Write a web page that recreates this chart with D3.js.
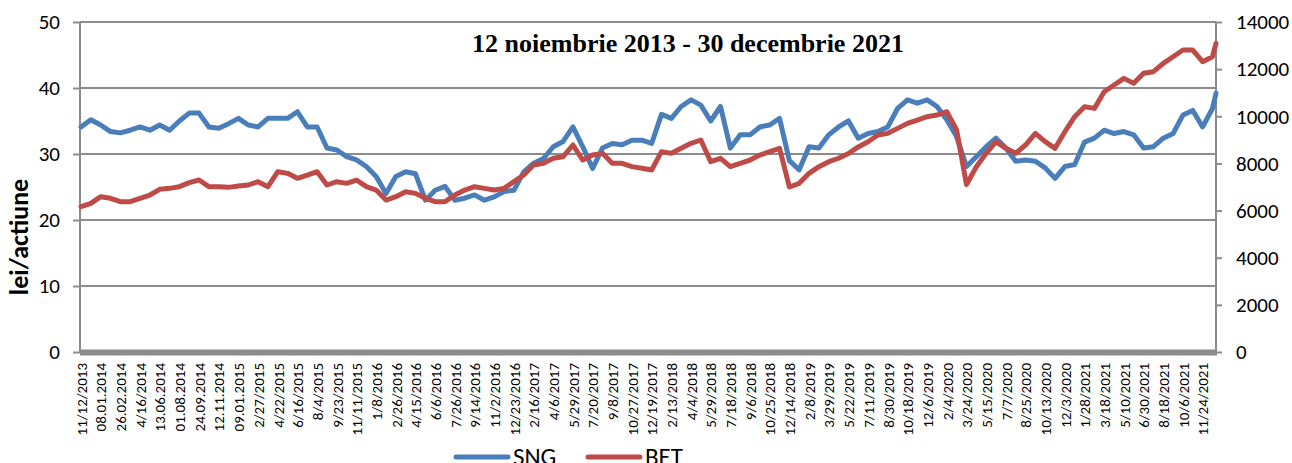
<!DOCTYPE html>
<html>
<head>
<meta charset="utf-8">
<script src="https://cdn.jsdelivr.net/npm/d3@7"></script>
<style>
  body { margin: 0; background: #fff; }
  svg { display: block; }
  .tick text { font-family: Carlito, Lato, sans-serif; fill: #000; }
</style>
</head>
<body>
<div id="chart"></div>
<script>
// category labels on the x axis (one every 35 trading days)
const DATE_LABELS = ["11/12/2013","08.01.2014","26.02.2014","4/16/2014","13.06.2014","01.08.2014",
  "24.09.2014","12.11.2014","09.01.2015","2/27/2015","4/22/2015","6/16/2015","8/4/2015","9/23/2015",
  "11/11/2015","1/8/2016","2/26/2016","4/15/2016","6/6/2016","7/26/2016","9/14/2016","11/2/2016",
  "12/23/2016","2/16/2017","4/6/2017","5/29/2017","7/20/2017","9/8/2017","10/27/2017","12/19/2017",
  "2/13/2018","4/4/2018","5/29/2018","7/18/2018","9/6/2018","10/25/2018","12/14/2018","2/8/2019",
  "3/29/2019","5/22/2019","7/11/2019","8/30/2019","10/18/2019","12/6/2019","2/4/2020","3/24/2020",
  "5/15/2020","7/7/2020","8/25/2020","10/13/2020","12/3/2020","1/28/2021","3/18/2021","5/10/2021",
  "6/30/2021","8/18/2021","10/6/2021","11/24/2021"];

// series, one value every half label interval, last one = last day
const SNG = [34.1,35.2,34.4,33.4,33.2,33.6,34.1,33.6,34.4,33.6,35.0,36.2,36.2,34.1,33.9,34.6,35.4,34.4,34.1,35.4,
  35.4,35.4,36.4,34.1,34.1,30.9,30.6,29.6,29.1,28.1,26.6,24.0,26.6,27.3,27.0,23.0,24.5,25.1,23.0,23.3,
  23.8,23.0,23.5,24.3,24.5,27.3,28.6,29.3,31.1,31.9,34.1,31.1,27.8,30.9,31.6,31.4,32.1,32.1,31.6,36.0,
  35.4,37.2,38.2,37.4,35.0,37.2,30.9,32.9,32.9,34.1,34.4,35.4,29.0,27.6,31.1,30.9,32.9,34.1,35.0,32.4,
  33.1,33.4,34.1,36.9,38.2,37.7,38.2,37.2,35.2,32.6,28.1,29.6,31.1,32.4,30.9,28.9,29.1,28.9,27.9,26.3,
  28.1,28.4,31.8,32.4,33.6,33.1,33.4,32.9,30.9,31.1,32.4,33.1,35.9,36.6,34.1,36.9,39.2];
const BET = [6165,6307,6590,6519,6378,6378,6519,6660,6900,6943,7014,7183,7296,7014,7014,6985,7042,7085,7226,7014,
  7650,7579,7367,7508,7650,7085,7226,7155,7296,7014,6872,6448,6589,6801,6730,6519,6378,6378,6660,6872,
  7014,6943,6872,6943,7226,7508,7933,8004,8216,8287,8782,8145,8357,8428,8004,8004,7863,7792,7721,8500,
  8428,8640,8852,8994,8075,8216,7862,8004,8145,8357,8499,8640,7000,7155,7579,7862,8075,8220,8420,8700,
  8922,9205,9276,9488,9700,9841,9982,10053,10195,9418,7100,7862,8428,8922,8640,8428,8781,9276,8922,8640,
  9346,9982,10406,10336,11042,11326,11609,11397,11822,11892,12246,12528,12811,12811,12316,12528,13094];

const LEFT_TICKS = [0, 10, 20, 30, 40, 50];
const RIGHT_TICKS = [0, 2000, 4000, 6000, 8000, 10000, 12000, 14000];

const WIDTH = 1292, HEIGHT = 463;
const PLOT = {left: 80, right: 1216, top: 22, bottom: 352};
const X_END = 57.68; // series end, in label intervals

const svg = d3.select("#chart").append("svg")
  .attr("width", WIDTH).attr("height", HEIGHT);

const X_SCALE = d3.scaleLinear().domain([0, X_END]).range([PLOT.left + 1, PLOT.right]);
const Y_LEFT = d3.scaleLinear().domain([0, 50]).range([PLOT.bottom, PLOT.top]);
const Y_RIGHT = d3.scaleLinear().domain([0, 14000]).range([PLOT.bottom, PLOT.top]);
const pos = (i) => Math.min(i / 2, X_END);

// horizontal gridlines
svg.append("g").selectAll("line")
  .data(LEFT_TICKS.filter(d => d > 0))
  .enter().append("line")
    .attr("x1", PLOT.left).attr("x2", PLOT.right)
    .attr("y1", d => Y_LEFT(d)).attr("y2", d => Y_LEFT(d))
    .attr("stroke", "#8c8c8c").attr("stroke-width", 2);

// left axis
const leftAxis = svg.append("g")
  .attr("transform", "translate(" + PLOT.left + ",0)")
  .call(d3.axisLeft(Y_LEFT).tickValues(LEFT_TICKS).tickSize(7).tickPadding(13));
leftAxis.selectAll("text").attr("font-size", "21px");

// right axis
const rightAxis = svg.append("g")
  .attr("transform", "translate(" + PLOT.right + ",0)")
  .call(d3.axisRight(Y_RIGHT).tickValues(RIGHT_TICKS).tickFormat(d3.format("d"))
    .tickSize(6).tickPadding(14));
rightAxis.selectAll("text").attr("font-size", "21px");

svg.selectAll(".domain, .tick line").attr("stroke", "#8c8c8c").attr("stroke-width", 2);
svg.selectAll(".domain").attr("d", "M0," + PLOT.top + "V" + PLOT.bottom);

// x axis: dense daily tick marks show up as a solid grey bar
const xAxis = svg.append("g")
  .attr("transform", "translate(0," + PLOT.bottom + ")")
  .call(d3.axisBottom(X_SCALE)
    .tickValues(d3.range(DATE_LABELS.length))
    .tickFormat(i => DATE_LABELS[i])
    .tickSize(0).tickPadding(0));
xAxis.select(".domain").remove();
xAxis.insert("rect", ":first-child")
  .attr("x", PLOT.left).attr("y", -2.5)
  .attr("width", PLOT.right - PLOT.left + 1).attr("height", 6)
  .attr("fill", "#8c8c8c");
xAxis.selectAll("text")
  .attr("font-size", "15px")
  .attr("transform", "rotate(-90)")
  .attr("text-anchor", "end")
  .attr("x", -11).attr("y", 0).attr("dy", "0.35em");

// series lines
const line = (yScale) => d3.line()
  .x((d, i) => X_SCALE(pos(i)))
  .y(d => yScale(d));

svg.append("path").datum(SNG)
  .attr("d", line(Y_LEFT))
  .attr("fill", "none").attr("stroke", "#4a7ebb").attr("stroke-width", 5)
  .attr("stroke-linejoin", "round").attr("stroke-linecap", "round");

svg.append("path").datum(BET)
  .attr("d", line(Y_RIGHT))
  .attr("fill", "none").attr("stroke", "#be4b48").attr("stroke-width", 5)
  .attr("stroke-linejoin", "round").attr("stroke-linecap", "round");

// title
svg.append("text")
  .attr("x", 688).attr("y", 52)
  .attr("text-anchor", "middle")
  .attr("font-family", "'Liberation Serif', 'Times New Roman', serif")
  .attr("font-weight", "bold").attr("font-size", "26px")
  .text("12 noiembrie 2013 - 30 decembrie 2021");

// y axis title
svg.append("text")
  .attr("transform", "translate(28,237) rotate(-90)")
  .attr("text-anchor", "middle")
  .attr("font-family", "Carlito, Lato, sans-serif")
  .attr("font-weight", "bold").attr("font-size", "26px")
  .text("lei/actiune");

// legend
const LEGEND = [{name: "SNG", color: "#4a7ebb", x: 456}, {name: "BET", color: "#be4b48", x: 588}];
const lg = svg.append("g").selectAll("g").data(LEGEND).enter().append("g");
lg.append("line")
  .attr("x1", d => d.x).attr("x2", d => d.x + 52)
  .attr("y1", 457).attr("y2", 457)
  .attr("stroke", d => d.color).attr("stroke-width", 5).attr("stroke-linecap", "round");
lg.append("text")
  .attr("x", d => d.x + 57).attr("y", 465)
  .attr("font-family", "Carlito, Lato, sans-serif").attr("font-size", "25px")
  .text(d => d.name);
</script>
</body>
</html>
